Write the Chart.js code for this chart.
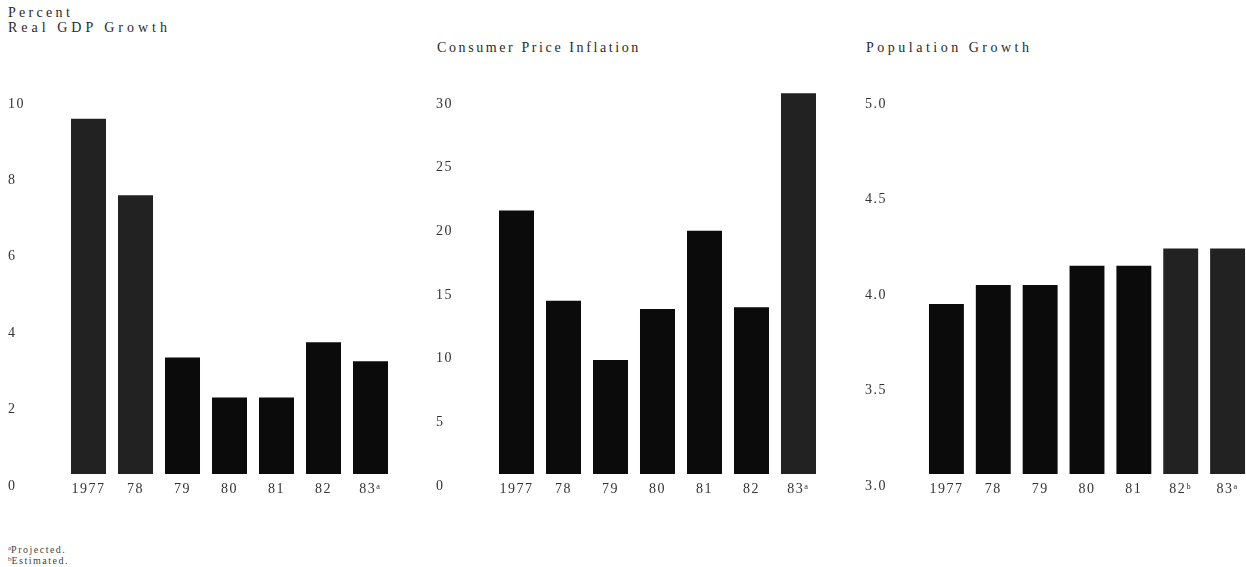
<!DOCTYPE html>
<html><head><meta charset="utf-8">
<script src="https://cdn.jsdelivr.net/npm/chart.js@4.4.1/dist/chart.umd.min.js"></script>
<style>
html,body{margin:0;padding:0;background:#fff;width:1246px;height:567px;overflow:hidden;position:relative;}
.t{position:absolute;font-family:"Liberation Serif","Times New Roman",serif;font-size:14px;letter-spacing:3px;color:#2a2a2a;white-space:nowrap;line-height:1;}
.fn{position:absolute;font-family:"Liberation Serif","Times New Roman",serif;font-size:10px;letter-spacing:1.5px;color:#444;white-space:nowrap;line-height:1;}
.fn sup{font-size:7px;vertical-align:3px;letter-spacing:0;}
canvas{position:absolute;top:0;}
</style></head><body>
<div class="t" style="left:8px;top:6px;letter-spacing:3.3px">Percent</div>
<div class="t" style="left:8px;top:21px;letter-spacing:4px">Real GDP Growth</div>
<div class="t" style="left:437px;top:41px;letter-spacing:2.6px">Consumer Price Inflation</div>
<div class="t" style="left:866px;top:41px;letter-spacing:3.5px">Population Growth</div>
<div class="fn" style="left:8px;top:545px"><sup>a</sup>Projected.</div>
<div class="fn" style="left:8px;top:556px"><sup>b</sup>Estimated.</div>
<canvas id="c1" width="410" height="567" style="left:0px"></canvas>
<canvas id="c2" width="410" height="567" style="left:428px"></canvas>
<canvas id="c3" width="410" height="567" style="left:857px"></canvas>
<script>
// Categories
const yearsA = ['1977', '78', '79', '80', '81', '82', '83ᵃ'];
const yearsB = ['1977', '78', '79', '80', '81', '82ᵇ', '83ᵃ'];
// Series values (percent)
const gdpGrowth = [9.3, 7.3, 3.05, 2.0, 2.0, 3.45, 2.95];
const inflation = [20.7, 13.6, 8.95, 12.95, 19.1, 13.1, 29.9];
const popGrowth = [3.89, 3.99, 3.99, 4.09, 4.09, 4.18, 4.18];
// Axis ranges / ticks
const gdpAxis = [0, 10, 2];
const inflAxis = [0, 30, 5];
const popAxis = [3.0, 5.0, 0.5];
// Bars with heavier scan grain
const gdpGrain = [true, true, false, false, false, false, false];
const inflGrain = [false, false, false, false, false, false, true];
const popGrain = [false, false, false, false, false, true, true];

const spacing = {
  id: 'spacing',
  beforeUpdate(c) { c.ctx.letterSpacing = '1.5px'; },
  beforeDraw(c) { c.ctx.letterSpacing = '1.5px'; }
};

const tickFont = { family: '"Liberation Serif","Times New Roman",serif', size: 14 };

function makeChart(id, labels, values, axis, decimals, grain, yWidth) {
  new Chart(document.getElementById(id), {
    type: 'bar',
    data: {
      labels: labels,
      datasets: [{
        data: values,
        backgroundColor: grain.map(g => g ? '#222222' : '#0b0b0b'),
        borderWidth: 0,
        categoryPercentage: 1.0,
        barPercentage: 0.745
      }]
    },
    options: {
      responsive: false,
      animation: false,
      events: [],
      layout: { padding: { left: 8, right: 16, top: 92, bottom: 63 } },
      plugins: { legend: { display: false }, tooltip: { enabled: false }, title: { display: false } },
      scales: {
        x: {
          grid: { display: false, drawTicks: false },
          border: { display: false },
          ticks: { font: tickFont, color: '#333', padding: 7, autoSkip: false, maxRotation: 0 },
          afterFit: a => { a.height = 30; }
        },
        y: {
          min: axis[0], max: axis[1],
          grid: { display: false, drawTicks: false },
          border: { display: false },
          ticks: {
            stepSize: axis[2], font: tickFont, color: '#333', crossAlign: 'far',
            labelOffset: 12,
            callback: v => Number(v).toFixed(decimals)
          },
          afterFit: a => { a.width = yWidth; }
        }
      }
    },
    plugins: [spacing]
  });
}

makeChart('c1', yearsA, gdpGrowth, gdpAxis, 0, gdpGrain, 57);
makeChart('c2', yearsA, inflation, inflAxis, 0, inflGrain, 57);
makeChart('c3', yearsB, popGrowth, popAxis, 1, popGrain, 58);
</script>
</body></html>
